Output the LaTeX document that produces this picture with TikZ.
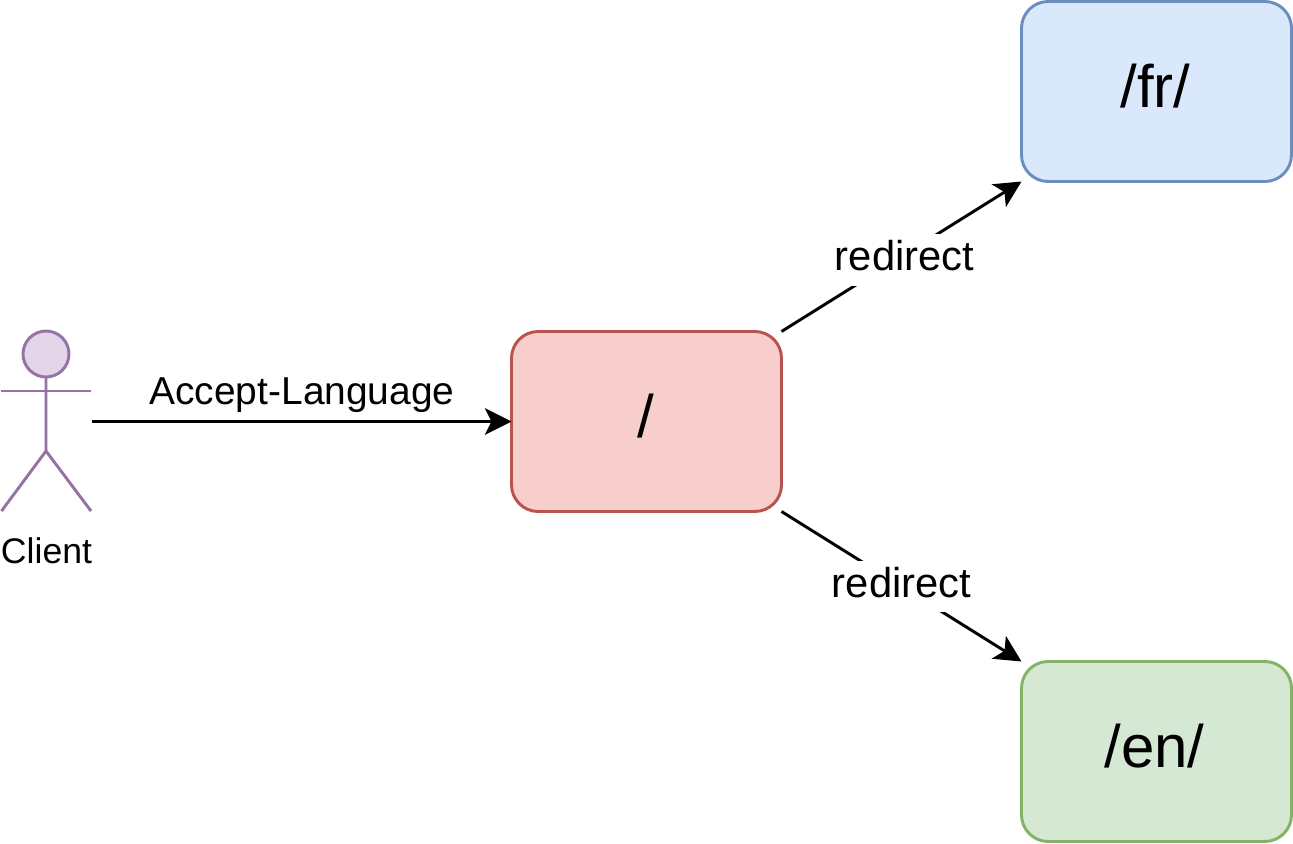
\documentclass[tikz,border=0pt]{standalone}
\usepackage{fontspec}
\setmainfont{Liberation Sans}
\usetikzlibrary{arrows.meta}
\definecolor{redf}{HTML}{F8CECC}\definecolor{redd}{HTML}{B85450}
\definecolor{bluef}{HTML}{DAE8FC}\definecolor{blued}{HTML}{6C8EBF}
\definecolor{greenf}{HTML}{D5E8D4}\definecolor{greend}{HTML}{82B366}
\definecolor{purf}{HTML}{E1D5E7}\definecolor{purd}{HTML}{9673A6}
\tikzset{x=0.75pt,y=-0.75pt,
 page/.style={draw,line width=2.2pt,rounded corners=20pt,minimum width=202.5pt,minimum height=135pt,outer sep=0pt,inner sep=0pt},
 big/.style={font=\fontsize{45pt}{45pt}\selectfont,anchor=base},
 link/.style={draw=black,line width=2.2pt,-{Stealth[length=20pt,width=20pt,inset=5pt]}},
 lbl/.style={fill=white,anchor=base,inner sep=0pt,text height=27pt,text depth=12pt,font=\fontsize{31.3pt}{31.3pt}\selectfont},
 actor/.style={draw=purd,line width=2.2pt}}
\begin{document}
\begin{tikzpicture}
\useasboundingbox (0,0) rectangle (1293,843);
\node[page,fill=redf,draw=redd] (root) at (646.5,421.5) {};
\node[page,fill=bluef,draw=blued] (fr) at (1156.5,91.5) {};
\node[page,fill=greenf,draw=greend] (en) at (1156.5,751.5) {};
\node[big] (rootlabel) at (646,437) {/};
\node[big] (frlabel) at (1155.5,107) {/fr/};
\node[big] (enlabel) at (1154.5,767) {/en/};
\coordinate (head) at (46,354);
\coordinate (actorright) at (91.5,421.5);
\draw[actor,fill=purf] (head) circle (23);
\draw[actor] (46,377) -- (46,451) -- (1.5,511);
\draw[actor] (46,451) -- (91,511);
\draw[actor] (1.5,391) -- (91,391);
\node[font=\fontsize{26.7pt}{26.7pt}\selectfont,anchor=base] (client) at (46.5,563) {Client};
\draw[link] (actorright) -- (root.west);
\node[font=\fontsize{29.2pt}{29.2pt}\selectfont,anchor=base] (al) at (302,404) {Accept-Language};
\draw[link] (root.north east) -- (fr.south west);
\draw[link] (root.south east) -- (en.north west);
\node[lbl] (r1) at (904.5,270) {redirect};
\node[lbl,text depth=11pt] (r2) at (901.5,597) {redirect};
\end{tikzpicture}
\end{document}
